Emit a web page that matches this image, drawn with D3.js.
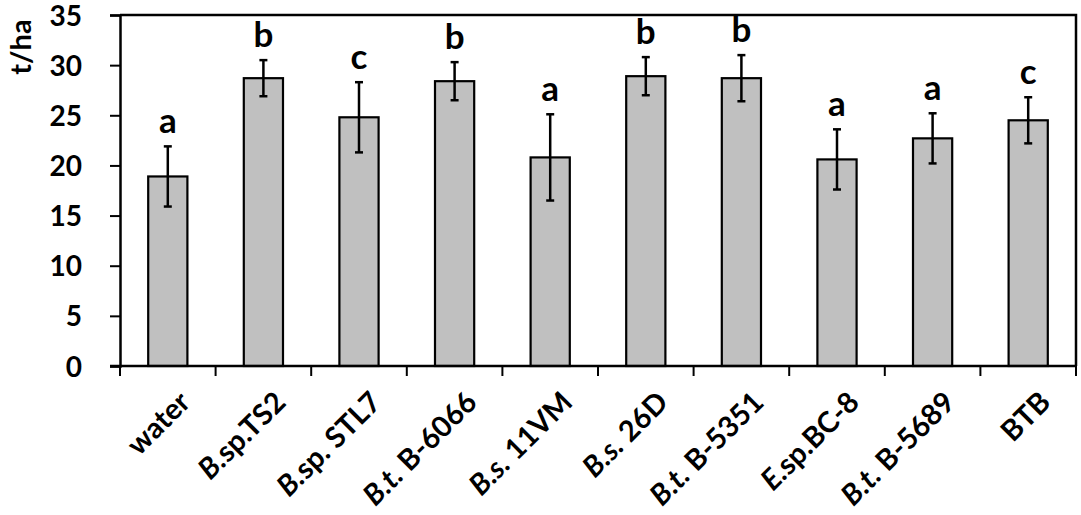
<!DOCTYPE html>
<html><head><meta charset="utf-8">
<script src="https://cdn.jsdelivr.net/npm/d3@7"></script>
<style>body{margin:0;background:#fff;} svg{display:block;}</style>
</head><body>
<svg id="c" width="1081" height="515"></svg>
<script>
// label parts: [text, italic]
const categories = [
  [["water", false]],
  [["B.", true], ["sp.TS2", false]],
  [["B.", true], ["sp. STL7", false]],
  [["B.t.", true], [" B-6066", false]],
  [["B.s.", true], [" 11VM", false]],
  [["B.s.", true], [" 26D", false]],
  [["B.t.", true], [" B-5351", false]],
  [["E.", true], ["sp.BC-8", false]],
  [["B.t.", true], [" B-5689", false]],
  [["BTB", false]]
];
const values = [18.9, 28.7, 24.8, 28.4, 20.8, 28.9, 28.7, 20.6, 22.7, 24.5];
const errors = [3.0, 1.8, 3.5, 1.9, 4.3, 1.9, 2.3, 3.0, 2.5, 2.3];
const letters = ["a", "b", "c", "b", "a", "b", "b", "a", "a", "c"];
const yTicks = [0, 5, 10, 15, 20, 25, 30, 35];
const yLabel = "t/ha";

const svg = d3.select("#c");
const L = 120, R = 1076, T = 15, B = 366;
const FONT = "Lato, 'Open Sans', sans-serif";
const idx = d3.range(values.length);
const x = d3.scaleBand().domain(idx).range([L, R]).paddingInner(0.59).paddingOuter(0.295);
const xb = d3.scaleBand().domain(idx).range([L, R]);
const y = d3.scaleLinear().domain([0, 35]).range([B, T]);

// bars
svg.append("g").selectAll("rect").data(idx).join("rect")
  .attr("x", i => x(i)).attr("width", x.bandwidth())
  .attr("y", i => y(values[i])).attr("height", i => y(0) - y(values[i]))
  .attr("fill", "#c0c0c0").attr("stroke", "#000").attr("stroke-width", 2.2);

// error bars
const eg = svg.append("g").attr("stroke", "#000").attr("stroke-width", 2.5);
idx.forEach(i => {
  const cx = x(i) + x.bandwidth() / 2;
  eg.append("line").attr("x1", cx).attr("x2", cx).attr("y1", y(values[i] + errors[i])).attr("y2", y(values[i] - errors[i]));
  eg.append("line").attr("x1", cx - 4).attr("x2", cx + 4).attr("y1", y(values[i] + errors[i])).attr("y2", y(values[i] + errors[i]));
  eg.append("line").attr("x1", cx - 4).attr("x2", cx + 4).attr("y1", y(values[i] - errors[i])).attr("y2", y(values[i] - errors[i]));
});

// letters
svg.append("g").selectAll("text").data(idx).join("text")
  .attr("x", i => x(i) + x.bandwidth() / 2)
  .attr("y", i => y(values[i] + errors[i]) - 13)
  .attr("text-anchor", "middle").attr("font-family", FONT).attr("font-weight", 700)
  .attr("font-size", 35).attr("fill", "#000").text(i => letters[i]);

// frame (top & right)
svg.append("path").attr("d", `M${L},${T}H${R}V${B}`).attr("fill", "none").attr("stroke", "#000").attr("stroke-width", 2.5);

// y axis
const ya = svg.append("g").attr("transform", `translate(${L},0)`)
  .call(d3.axisLeft(y).tickValues(yTicks).tickSize(10).tickPadding(28).tickFormat(d3.format("d")));
ya.select(".domain").attr("stroke-width", 2.5);
ya.selectAll(".tick line").attr("stroke-width", 2);
ya.selectAll(".tick text").attr("font-family", FONT).attr("font-weight", 700).attr("font-size", 28).attr("fill", "#000").attr("dy", "0.36em");

// x axis ticks at band boundaries
const bounds = idx.map(i => xb(i)).concat([R]);
svg.append("line").attr("x1", L - 10).attr("x2", R).attr("y1", B).attr("y2", B).attr("stroke", "#000").attr("stroke-width", 2.5);
svg.append("g").selectAll("line").data(bounds).join("line")
  .attr("x1", d => d).attr("x2", d => d).attr("y1", B).attr("y2", B + 10)
  .attr("stroke", "#000").attr("stroke-width", 2);

// x labels
svg.append("g").selectAll("text").data(idx).join("text")
  .attr("transform", i => `translate(${xb(i) + xb.bandwidth() / 2 + 24},404) rotate(-45)`)
  .attr("text-anchor", "end").attr("font-family", FONT).attr("font-weight", 700)
  .attr("font-size", 29).attr("fill", "#000")
  .each(function(i) {
    const t = d3.select(this);
    categories[i].forEach(([s, it]) => t.append("tspan").attr("font-style", it ? "italic" : "normal").text(s));
  });

// y label
svg.append("text").attr("transform", "translate(31,47) rotate(-90)")
  .attr("text-anchor", "middle").attr("font-family", FONT).attr("font-weight", 700)
  .attr("font-size", 29).attr("fill", "#000").text(yLabel);
</script>
</body></html>
